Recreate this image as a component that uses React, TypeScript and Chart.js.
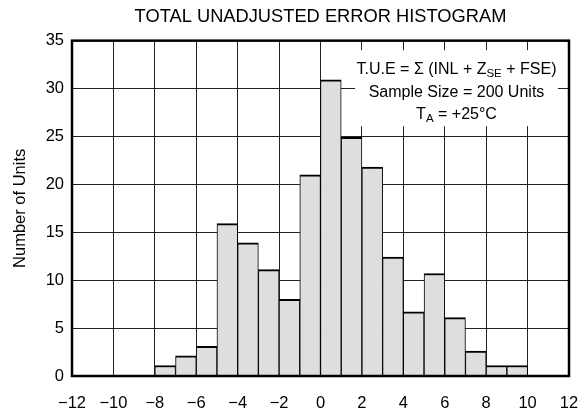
import React, { useEffect, useRef } from "react";
import { Chart, registerables } from "chart.js";

Chart.register(...registerables);

const binStarts = [-8, -7, -6, -5, -4, -3, -2, -1, 0, 1, 2, 3, 4, 5, 6, 7, 8, 9];
const unitCounts = [1.1, 2.1, 3.1, 15.9, 13.9, 11.1, 8.0, 21.0, 30.9, 24.9, 21.8, 12.4, 6.7, 10.7, 6.1, 2.6, 1.1, 1.1];
const chartTitle = "TOTAL UNADJUSTED ERROR HISTOGRAM";
const yTitle = "Number of Units";
const noteLine2 = "Sample Size = 200 Units";

const FONT = '"Liberation Sans", Arial, Helvetica, sans-serif';

const fmt = (v: number) => (v < 0 ? "\u2212" + Math.abs(v) : String(v));

const notePlugin = {
  id: "note",
  beforeDatasetsDraw(chart: any) {
    const { ctx, chartArea } = chart;
    ctx.save();
    const bx = chartArea.left + 283;
    const by = chartArea.top + 9.5;
    const bw = 203;
    const bh = 76;
    ctx.fillStyle = "#fff";
    ctx.fillRect(bx, by, bw, bh);
    const cx = bx + bw / 2;
    ctx.fillStyle = "#000";
    ctx.textBaseline = "middle";
    const big = `16px ${FONT}`;
    const small = `11.5px ${FONT}`;
    const drawSegs = (segs: [string, boolean][], y: number) => {
      let total = 0;
      segs.forEach(([t, sub]) => {
        ctx.font = sub ? small : big;
        total += ctx.measureText(t).width;
      });
      let x = cx - total / 2;
      ctx.textAlign = "left";
      segs.forEach(([t, sub]) => {
        ctx.font = sub ? small : big;
        ctx.fillText(t, x, sub ? y + 4.5 : y);
        x += ctx.measureText(t).width;
      });
    };
    drawSegs([["T.U.E = \u03A3 (INL + Z", false], ["SE", true], [" + FSE)", false]], by + 19);
    drawSegs([[noteLine2, false]], by + 42);
    drawSegs([["T", false], ["A", true], [" = +25\u00B0C", false]], by + 64);
    ctx.restore();
  },
};

const framePlugin = {
  id: "frame",
  afterDatasetsDraw(chart: any) {
    const { ctx, chartArea } = chart;
    ctx.save();
    ctx.strokeStyle = "#000";
    ctx.lineWidth = 2.5;
    ctx.strokeRect(chartArea.left, chartArea.top, chartArea.right - chartArea.left, chartArea.bottom - chartArea.top);
    ctx.restore();
  },
};

export default function App() {
  const ref = useRef<HTMLCanvasElement | null>(null);
  useEffect(() => {
    document.body.style.margin = "0";
    Chart.defaults.font.family = FONT;
    Chart.defaults.color = "#000";
    const chart = new Chart(ref.current as HTMLCanvasElement, {
      type: "bar",
      data: {
        datasets: [
          {
            data: binStarts.map((s, i) => ({ x: s + 0.5, y: unitCounts[i] })),
            backgroundColor: "#dedede",
            borderColor: "#000",
            borderWidth: { top: 2, left: 1, right: 1, bottom: 0 } as any,
            borderSkipped: false,
            barPercentage: 1,
            categoryPercentage: 1,
          },
        ],
      },
      options: {
        animation: false,
        responsive: false,
        maintainAspectRatio: false,
        layout: { padding: { left: 0, right: 15, top: 0, bottom: 0 } },
        plugins: {
          legend: { display: false },
          tooltip: { enabled: false },
          title: {
            display: true,
            fullSize: false,
            text: chartTitle,
            font: { size: 18.3, weight: "normal" as any },
            color: "#000",
            padding: { top: 6.2, bottom: 12.5 },
          },
        },
        scales: {
          x: {
            type: "linear",
            min: -12,
            max: 12,
            offset: false,
            ticks: { stepSize: 2, callback: (v: any) => fmt(Number(v)), font: { size: 16.5 }, padding: 18, color: "#000", maxRotation: 0 },
            grid: { color: "#222", lineWidth: 1, drawTicks: false, offset: false },
            border: { display: false },
            afterFit: (s: any) => {
              s.height = 42;
              s.paddingLeft = 0;
              s.paddingRight = 0;
            },
          },
          y: {
            min: 0,
            max: 35,
            ticks: { stepSize: 5, font: { size: 16.5 }, padding: 8, color: "#000" },
            grid: { color: "#222", lineWidth: 1, drawTicks: false },
            border: { display: false },
            title: { display: true, text: yTitle, font: { size: 16.5 }, color: "#000", padding: { top: 10.5, bottom: 0 } },
            afterFit: (s: any) => {
              s.width = 72;
              s.paddingTop = 0;
              s.paddingBottom = 0;
            },
          },
        },
      },
      plugins: [notePlugin, framePlugin],
    });
    return () => chart.destroy();
  }, []);
  return (
    <div style={{ width: 584, height: 418 }}>
      <canvas ref={ref} width={584} height={418} style={{ display: "block" }} />
    </div>
  );
}
